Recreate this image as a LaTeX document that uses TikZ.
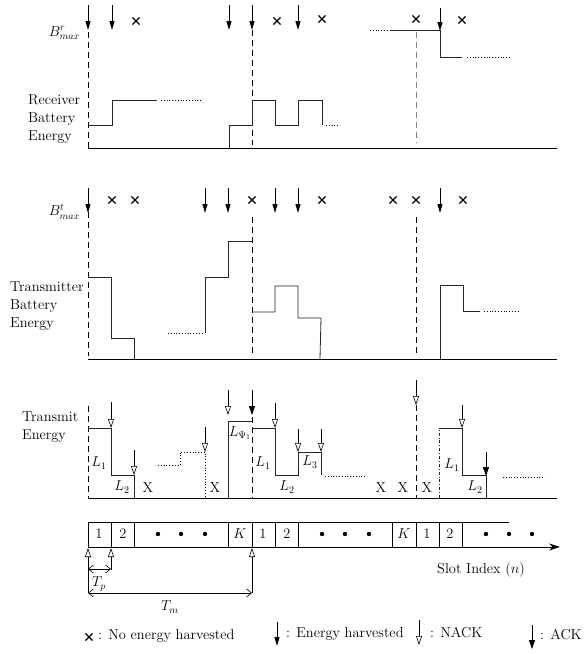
\documentclass[tikz,border=0pt,12pt]{standalone}
\usetikzlibrary{arrows.meta,shapes.misc}
\tikzset{
  harv/.style={-{Triangle[length=9pt,width=5pt]}, line width=0.9pt},
  nack/.style={-{Triangle[open,length=9pt,width=6pt]}, line width=0.6pt},
  ack/.style={-{Triangle[length=9pt,width=6pt]}, line width=0.9pt},
  nox/.style={cross out, draw, minimum size=6pt, inner sep=0pt, line width=1.1pt},
  slotline/.style={dash pattern=on 6pt off 4pt, line width=0.8pt},
  level/.style={line width=0.8pt, black!85},
  more/.style={dotted, line width=0.8pt},
  span/.style={{Straight Barb[length=5pt,width=8pt]}-{Straight Barb[length=5pt,width=8pt]}, line width=0.6pt},
}
\begin{document}
\begin{tikzpicture}[x=1pt, y=-1pt, font=\large]
	\useasboundingbox (0,0) rectangle (585,654);
	% receiver battery
	\node[anchor=east] (bmaxr) at (84,33) {$B^r_{max}$};
	\node[align=left, anchor=west, inner sep=0pt] (rxlab) at (28,119) {Receiver\\Battery\\Energy};
	\draw[line width=0.8pt] (88,148) -- (557,148);
	\draw[slotline] (88,22) -- (88,150);
	\draw[slotline] (252,30) -- (252,145);
	\draw[slotline, gray] (416,32) -- (416,143);
	\foreach \x in {88,112,229,252,298}{ \draw[harv] (\x,5) -- (\x,30); }
	\draw[harv] (440,8) -- (440,31);
	\foreach \x/\y in {136/21,277/21,322/19,416/19,462/20}{ \node[nox] (xr\x) at (\x,\y) {}; }
	\draw[level] (88,125) -- (112,125) -- (112,100) -- (157,100);
	\draw[more] (161,100) -- (203,100);
	\draw[level] (229,148) -- (229,125) -- (252,125) -- (252,100) -- (275,100) -- (275,125)
		-- (298,125) -- (298,100) -- (322,100) -- (322,125);
	\draw[more] (326,125) -- (340,125);
	\draw[more] (370,30) -- (388,30);
	\draw[level] (390,30) -- (440,30) -- (440,57) -- (462,57);
	\draw[more] (467,57) -- (510,57);
	% transmitter battery
	\node[anchor=east] (bmaxt) at (84,212) {$B^t_{max}$};
	\node[align=left, anchor=west, inner sep=0pt] (txlab) at (10,306) {Transmitter\\Battery\\Energy};
	\draw[line width=0.8pt] (88,359) -- (557,359);
	\draw[slotline] (88,212) -- (88,356);
	\draw[slotline] (252,217) -- (252,356);
	\draw[slotline] (416,217) -- (416,353);
	\foreach \x in {88,205,228,275,298,440}{ \draw[harv] (\x,188) -- (\x,213); }
	\foreach \x in {112,135,252,322,393,416,463}{ \node[nox] (xt\x) at (\x,200) {}; }
	\draw[level] (88,277) -- (111,277) -- (111,338) -- (134,338) -- (134,359);
	\draw[more] (168,333) -- (203,333);
	\draw[level] (205,333) -- (205,277) -- (228,277) -- (228,241) -- (252,241);
	\draw[level] (252,312) -- (275,312) -- (275,286) -- (298,286) -- (298,318) -- (321,318) -- (320,359);
	\draw[level] (440,359) -- (440,285) -- (463,285) -- (463,311) -- (480,311);
	\draw[more] (484,311) -- (520,311);
	% transmit energy
	\node[align=left, anchor=west, inner sep=0pt] (televel) at (22,427) {Transmit\\Energy};
	\draw[line width=0.8pt] (88,498) -- (557,498);
	\draw[slotline] (88,406) -- (88,498);
	\draw[slotline] (252,417) -- (252,498);
	\draw[slotline] (416,405) -- (416,498);
	\foreach \x/\a/\b in {111/402/428, 134/450/475, 205/427/452, 228/390/415, 275/403/428,
		298/429/452, 321/429/452, 416/380/405, 462/405/428}{ \draw[nack] (\x,\a) -- (\x,\b); }
	\draw[ack] (252,390) -- (252,415);
	\draw[ack] (486,452) -- (486,476);
	\draw[level] (88,428) -- (111,428) -- (111,475) -- (134,475) -- (134,498);
	\draw[more] (158,465) -- (180,465) -- (180,452) -- (205,452) -- (205,498);
	\draw[level] (228,498) -- (228,421) -- (252,421);
	\draw[level] (252,428) -- (275,428) -- (275,475) -- (298,475) -- (298,452) -- (321,452) -- (321,475);
	\draw[more] (325,476) -- (365,476);
	\draw[level, dash dot] (439,498) -- (439,428);
	\draw[level] (439,428) -- (462,428) -- (462,475) -- (486,475) -- (486,498);
	\draw[more] (503,477) -- (545,477);
	\foreach \x/\y/\t in {99/463/L_1, 122/487/L_2, 240/433/L_{\Psi_1}, 263/463/L_1, 287/487/L_2,
		310/462/L_3, 452/465/L_1, 475/487/L_2}{ \node (l\x) at (\x,\y) {$\t$}; }
	\foreach \x in {148,215,381,403,427}{ \node (nx\x) at (\x,488) {X}; }
	% slot axis
	\draw[line width=0.8pt] (88,522) -- (509,522);
	\draw[line width=0.8pt, -{Stealth[length=11pt,width=7pt]}] (88,547) -- (560,547);
	\foreach \x in {88,111,134,228,252,275,298,392,416,439,462}{ \draw[line width=0.8pt] (\x,522) -- (\x,547); }
	\foreach \x/\t in {99/1,123/2,240/K,263/1,287/2,404/K,427/1,450/2}{ \node (s\x) at (\x,534) {$\t$}; }
	\foreach \x in {158,181,205,322,345,369,486,509,532}{ \fill (\x,534) circle (2.2pt); }
	\node (slot) at (481,570) {Slot Index $(n)$};
	\draw[nack] (88,593) -- (88,548);
	\draw[nack] (111,570) -- (111,548);
	\draw[nack] (252,593) -- (252,548);
	\draw[span] (88,569) -- (111,569);
	\node (tp) at (99,584) {$T_p$};
	\draw[span] (88,593) -- (252,593);
	\node (tm) at (170,607) {$T_m$};
	% legend
	\node[nox] (lgx) at (89,637) {};
	\node[anchor=west, inner sep=0pt] (lgxt) at (98,636) {: No energy harvested};
	\draw[harv] (277,622) -- (277,646);
	\node[anchor=west, inner sep=0pt] (lght) at (286,634) {: Energy harvested};
	\draw[nack] (419,620) -- (419,645);
	\node[anchor=west, inner sep=0pt] (lgnt) at (430,633) {: NACK};
	\draw[ack] (532,625) -- (532,649);
	\node[anchor=west, inner sep=0pt] (lgat) at (540,635) {: ACK};
\end{tikzpicture}
\end{document}
